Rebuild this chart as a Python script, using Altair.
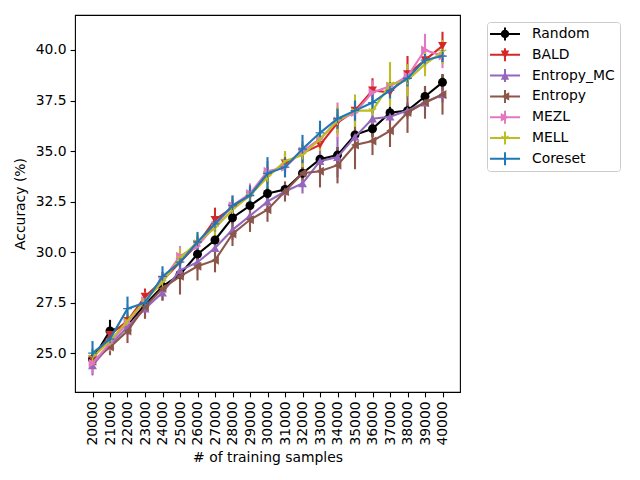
import altair as alt
import pandas as pd

samples = list(range(20000, 40001, 1000))
series_names = ["Random", "BALD", "Entropy_MC", "Entropy", "MEZL", "MELL", "Coreset"]
colors = ["#000000", "#d62728", "#9467bd", "#8c564b", "#e377c2", "#bcbd22", "#1f77b4"]

random_mean = [24.7, 26.1, 26.4, 27.4, 28.3, 28.9, 29.9, 30.6, 31.7, 32.3, 32.9, 33.1, 33.9, 34.6, 34.8, 35.8, 36.1, 36.9, 37.0, 37.7, 38.4]
random_err = [0.3, 0.55, 0.3, 0.3, 0.3, 0.3, 0.3, 0.3, 0.3, 0.3, 0.3, 0.3, 0.3, 0.3, 0.4, 0.3, 0.4, 0.3, 0.3, 0.5, 0.4]
bald_mean = [24.7, 25.9, 26.6, 27.8, 28.6, 29.5, 30.4, 31.6, 32.2, 32.8, 33.8, 34.4, 34.9, 35.3, 36.4, 37.0, 38.0, 37.9, 38.8, 39.5, 40.2]
bald_err = [0.3, 0.4, 0.3, 0.4, 0.4, 0.4, 0.4, 0.6, 0.4, 0.4, 0.4, 0.5, 0.4, 0.5, 0.5, 0.5, 0.6, 0.5, 0.9, 0.5, 0.7]
emc_mean = [24.4, 25.4, 26.3, 27.2, 28.0, 29.1, 29.5, 30.2, 31.1, 31.8, 32.5, 33.0, 33.4, 34.5, 34.7, 35.7, 36.6, 36.7, 37.0, 37.4, 37.8]
emc_err = [0.5, 0.4, 0.4, 0.4, 0.4, 0.4, 0.4, 0.4, 0.5, 0.4, 0.5, 0.4, 0.5, 0.5, 1.0, 0.6, 0.5, 0.4, 0.4, 0.4, 0.4]
entropy_mean = [24.6, 25.3, 26.1, 27.3, 28.2, 28.8, 29.3, 29.6, 30.9, 31.6, 32.1, 33.0, 33.9, 34.0, 34.3, 35.3, 35.5, 36.0, 36.9, 37.4, 37.8]
entropy_err = [0.3, 0.4, 0.6, 0.6, 0.6, 0.9, 0.7, 0.6, 0.6, 0.6, 0.6, 0.5, 0.6, 0.8, 0.9, 1.2, 0.7, 0.8, 1.0, 0.8, 1.0]
mezl_mean = [24.5, 25.5, 26.5, 27.6, 28.6, 29.8, 30.3, 31.3, 32.3, 32.9, 34.0, 34.2, 35.0, 35.6, 36.5, 36.9, 37.9, 38.2, 38.7, 40.0, 39.7]
mezl_err = [0.5, 0.4, 0.4, 0.4, 0.4, 0.5, 0.4, 0.4, 0.5, 0.5, 0.5, 0.5, 0.5, 0.6, 0.9, 0.5, 0.6, 0.5, 0.5, 0.8, 0.6]
mell_mean = [24.8, 25.6, 26.6, 27.6, 28.5, 29.7, 30.5, 31.2, 32.1, 32.8, 33.7, 34.5, 34.8, 35.6, 36.5, 37.0, 37.0, 38.3, 38.5, 39.3, 39.9]
mell_err = [0.4, 0.4, 0.4, 0.4, 0.4, 0.5, 0.4, 0.4, 0.5, 0.5, 0.6, 0.5, 0.6, 0.6, 0.7, 0.8, 0.6, 1.1, 0.8, 0.6, 0.6]
coreset_mean = [25.0, 25.7, 27.2, 27.5, 28.8, 29.5, 30.5, 31.4, 32.3, 32.8, 33.9, 34.2, 35.1, 35.9, 36.6, 37.0, 37.4, 38.0, 38.6, 39.5, 39.7]
coreset_err = [0.6, 0.5, 0.6, 0.4, 0.5, 0.4, 0.5, 0.4, 0.5, 0.5, 0.8, 0.5, 0.7, 0.6, 0.5, 0.5, 0.5, 0.4, 0.4, 0.3, 0.3]

means = [random_mean, bald_mean, emc_mean, entropy_mean, mezl_mean, mell_mean, coreset_mean]
errs = [random_err, bald_err, emc_err, entropy_err, mezl_err, mell_err, coreset_err]

rows = []
for name, m, e in zip(series_names, means, errs):
    for s, v, d in zip(samples, m, e):
        rows.append({"samples": s, "series": name, "mean": v, "lo": v - d, "hi": v + d})
df = pd.DataFrame(rows)

# plot marker shapes
plus_path = "M-1,0L1,0M0,-1L0,1"
tri1_path = "M0,0L0,1M0,0L-0.866,-0.5M0,0L0.866,-0.5"
plot_shapes = ["circle", "triangle-down", "triangle-up", "triangle-left", "triangle-right", tri1_path, plus_path]
plot_filled = [True, True, True, True, True, False, False]

# legend symbol paths: line + errorbar + marker
hline = "M-2.14,-0.14H2.14V0.14H-2.14Z"
vbar = "M-0.14,-0.93H0.14V0.93H-0.14Z"
leg_markers = [
    "M-0.6,0A0.6,0.6 0 1,1 0.6,0A0.6,0.6 0 1,1 -0.6,0Z",
    "M-0.6,-0.6L0.6,-0.6L0,0.6Z",
    "M0,-0.6L0.6,0.6L-0.6,0.6Z",
    "M-0.6,0L0.6,-0.6L0.6,0.6Z",
    "M-0.6,-0.6L0.6,0L-0.6,0.6Z",
    "M-0.04,0.069L-0.56,-0.231L-0.48,-0.369L0.04,-0.069ZM-0.04,-0.069L0.48,-0.369L0.56,-0.231L0.04,0.069Z",
    "",
]
legend_paths = [hline + vbar + mk for mk in leg_markers]

xscale = alt.Scale(domain=[19000, 41000], nice=False, zero=False)
yscale = alt.Scale(domain=[23.08, 41.73], nice=False, zero=False)
xenc = alt.X("samples:Q", scale=xscale, axis=alt.Axis(
    values=samples, format="d", labelAngle=-90, title="# of training samples",
    grid=False, tickSize=4.9, labelPadding=4, titlePadding=5, domain=False))
yaxis = alt.Axis(values=[25.0, 27.5, 30.0, 32.5, 35.0, 37.5, 40.0], format=".1f",
                 title="Accuracy (%)", grid=False, tickSize=4.9, labelPadding=4,
                 titlePadding=8, domain=False)

layers = []
for name, c in zip(series_names, colors):
    layers.append(
        alt.Chart(df).transform_filter(alt.datum.series == name)
        .mark_rule(color=c, strokeWidth=2.1)
        .encode(x=xenc, y=alt.Y("lo:Q", scale=yscale, axis=yaxis), y2="hi:Q")
    )
for name, c, shp, fil in zip(series_names, colors, plot_shapes, plot_filled):
    base = alt.Chart(df).transform_filter(alt.datum.series == name)
    layers.append(base.mark_line(color=c, strokeWidth=2.1).encode(
        x=xenc, y=alt.Y("mean:Q", scale=yscale, axis=yaxis)))
    if fil:
        pt = base.mark_point(color=c, filled=True, size=80, opacity=1, shape=shp)
    else:
        pt = base.mark_point(color=c, filled=False, size=75, opacity=1, strokeWidth=1.3, shape=shp)
    layers.append(pt.encode(x=xenc, y=alt.Y("mean:Q", scale=yscale, axis=yaxis)))

leg = alt.Legend(title=None, orient="none", legendX=412, legendY=7,
                 symbolSize=196, symbolStrokeWidth=0, symbolOffset=6, labelOffset=20,
                 labelFontSize=13.9, labelFont="DejaVu Sans", labelColor="black",
                 rowPadding=6.8, padding=5, strokeColor="#cccccc", fillColor="white",
                 cornerRadius=3, symbolOpacity=1)
legend_layer = (
    alt.Chart(df).transform_filter("false")
    .mark_point(filled=True, opacity=1)
    .encode(
        x=xenc,
        y=alt.Y("mean:Q", scale=yscale, axis=yaxis),
        color=alt.Color("series:N", scale=alt.Scale(domain=series_names, range=colors), legend=leg),
        shape=alt.Shape("series:N", scale=alt.Scale(domain=series_names, range=legend_paths), legend=leg),
    )
)
layers.append(legend_layer)

chart = alt.layer(*layers).properties(
    width=385, height=377,
    padding={"left": 5, "top": 7, "right": 5, "bottom": 5},
).configure(font="DejaVu Sans").configure_view(
    stroke="black", strokeWidth=1.1
).configure_axis(
    labelFontSize=13.9, titleFontSize=13.9, labelColor="black", titleColor="black",
    tickColor="black", tickWidth=1.1, titleFontWeight="normal", labelFont="DejaVu Sans",
    titleFont="DejaVu Sans"
)

chart.save("out.html", embed_options={"renderer": "svg", "actions": False})
